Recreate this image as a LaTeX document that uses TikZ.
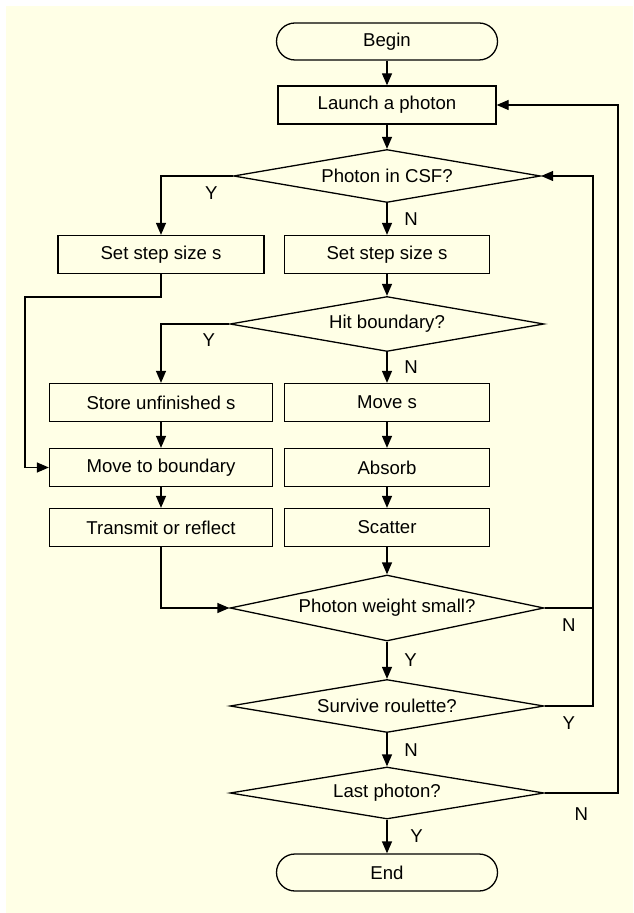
\documentclass[tikz,border=0pt]{standalone}
\usepackage{fontspec}
\setmainfont{Liberation Sans}
\usetikzlibrary{arrows.meta}
\usetikzlibrary{shapes.geometric}
\definecolor{bgcream}{RGB}{255,255,230}

\begin{document}
\begin{tikzpicture}[x=0.5pt,y=-0.5pt,->,>={Triangle[length=6pt,width=5pt]},
                    line width=0.65pt,font=\fontsize{9.3}{11}\selectfont,
                    term/.style={draw,rectangle,rounded corners=9.25pt,minimum width=110.5pt,minimum height=18.5pt,inner sep=0pt},
                    proc/.style={draw,rectangle,minimum width=102.5pt,minimum height=19pt,inner sep=0pt},
                    wide proc/.style={proc,minimum width=111.5pt},
                    decision/.style={draw,diamond,aspect=6,inner sep=0pt,minimum width=157pt,minimum height=26.5pt}]

  \fill[bgcream,-] (6,6) rectangle (633,913);
  \useasboundingbox (0,0) rectangle (633,913);

  \node[term] (begin) at (387,41.5) {Begin};
  \node[proc,minimum width=109pt] (launch) at (387,105) {Launch a photon};
  \node[decision,minimum width=153.5pt] (csf) at (387,176) {Photon in CSF?};
  \node[proc,minimum width=103pt] (stepL) at (161,254.5) {Set step size s};
  \node[proc] (stepR) at (387,254.5) {Set step size s};
  \node[decision,minimum height=27.5pt] (hit) at (387,324) {Hit boundary?};
  \node[wide proc] (store) at (161,402.5) {Store unfinished s};
  \node[proc] (moves) at (387,402.5) {Move s};
  \node[wide proc] (toboundary) at (161,467.5) {Move to boundary};
  \node[proc] (absorb) at (387,467.5) {Absorb};
  \node[wide proc] (transmit) at (161,527.5) {Transmit or reflect};
  \node[proc] (scatter) at (387,527.5) {Scatter};
  \node[decision,minimum height=33pt] (weight) at (387,608) {Photon weight small?};
  \node[decision] (roulette) at (387,706) {Survive roulette?};
  \node[decision,minimum height=26pt] (last) at (387,793) {Last photon?};
  \node[term] (end) at (387,872.5) {End};

  % rails for the loops
  \coordinate (leftrail) at (25,297);
  \coordinate (innerrail) at (593,0);
  \coordinate (outerrail) at (618,0);

  \draw (begin) -- (launch);
  \draw (launch) -- (csf);
  \draw (csf.west) -| node[pos=0.15,below=1.5pt] {Y} (stepL.north);
  \draw (csf) -- node[right=5pt] {N} (stepR);
  \draw (stepR) -- (hit);
  \draw (hit.west) -| node[pos=0.15,below=1pt] {Y} (store.north);
  \draw (hit) -- node[right=5pt] {N} (moves);
  \draw (store) -- (toboundary);
  \draw (toboundary) -- (transmit);
  \draw (moves) -- (absorb);
  \draw (absorb) -- (scatter);
  \draw (scatter) -- (weight);
  \draw (stepL.south) |- (leftrail) |- (toboundary.west);
  \draw (transmit.south) |- (weight.west);
  \draw (weight) -- node[right=5pt] {Y} (roulette);
  \draw (roulette) -- node[right=5pt] {N} (last);
  \draw (last) -- node[right=8pt] {Y} (end);

  % back to the loops
  \draw[-] (weight.east) -- node[below=1.5pt] {N} (weight.east -| innerrail);
  \draw (roulette.east) -- node[below=1.5pt] {Y} (roulette.east -| innerrail)
        -- (csf.east -| innerrail) -- (csf.east);
  \draw (last.east) -- node[below=3.5pt] {N} (last.east -| outerrail)
        -- (launch.east -| outerrail) -- (launch.east);
\end{tikzpicture}
\end{document}
